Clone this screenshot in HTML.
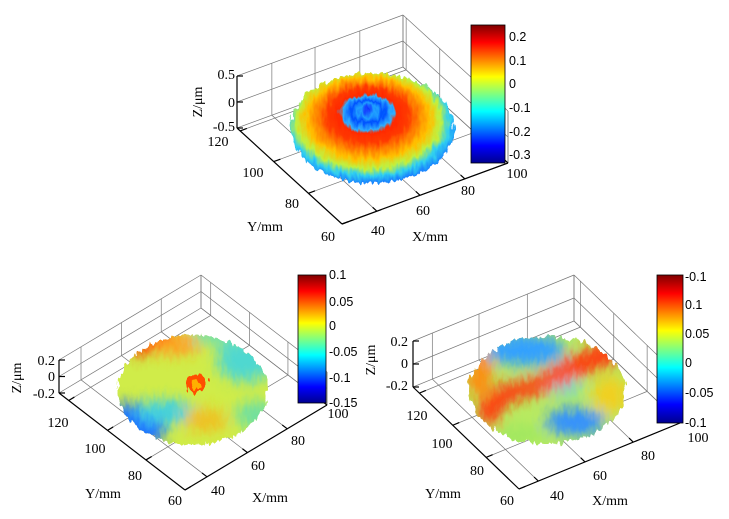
<!DOCTYPE html>
<html><head><meta charset="utf-8">
<style>
html,body{margin:0;padding:0;background:#fff;}
svg{display:block;}
.t{font-family:"Liberation Serif",serif;font-size:14px;fill:#000;}
.c{font-family:"Liberation Sans",sans-serif;font-size:12.5px;fill:#000;}
</style></head>
<body>
<svg id="s" width="729" height="519" viewBox="0 0 729 519" xmlns="http://www.w3.org/2000/svg">
<defs>
<linearGradient id="jet" x1="0" y1="1" x2="0" y2="0">
<stop offset="0" stop-color="#00008f"/><stop offset="0.125" stop-color="#0000ff"/>
<stop offset="0.375" stop-color="#00ffff"/><stop offset="0.625" stop-color="#ffff00"/>
<stop offset="0.875" stop-color="#ff0000"/><stop offset="1" stop-color="#800000"/>
</linearGradient>
<filter id="rough" x="-10%" y="-10%" width="120%" height="120%">
<feTurbulence type="fractalNoise" baseFrequency="0.25 0.09" numOctaves="2" seed="3" result="n"/>
<feDisplacementMap in="SourceGraphic" in2="n" scale="10" xChannelSelector="R" yChannelSelector="G"/>
</filter>
<filter id="blur6"><feGaussianBlur stdDeviation="7"/></filter>
<radialGradient id="g1" cx="0.48" cy="0.45" r="0.55" fx="0.47" fy="0.33">
<stop offset="0" stop-color="#1030ff"/><stop offset="0.1" stop-color="#20a0ff"/>
<stop offset="0.18" stop-color="#0050ff"/><stop offset="0.28" stop-color="#30b0ff"/>
<stop offset="0.33" stop-color="#ff2a00"/><stop offset="0.45" stop-color="#ff3a00"/>
<stop offset="0.55" stop-color="#ff7a00"/><stop offset="0.68" stop-color="#ffc000"/>
<stop offset="0.8" stop-color="#c0f040"/><stop offset="0.9" stop-color="#30d0f0"/>
<stop offset="1" stop-color="#1880ff"/>
</radialGradient>
</defs>
<g id="grid" stroke="#777" stroke-width="0.7" fill="none"></g>

<!-- top surface -->
<g filter="url(#rough)">
<ellipse cx="372" cy="128" rx="82" ry="55" fill="url(#g1)"/>
</g>
<!-- bottom-left surface -->
<g filter="url(#rough)">
<clipPath id="cl1"><ellipse cx="193" cy="390" rx="75" ry="55"/></clipPath>
<g clip-path="url(#cl1)">
<rect x="110" y="330" width="170" height="120" fill="#d0ec48"/>
<g filter="url(#blur6)">
<ellipse cx="140" cy="332" rx="32" ry="22" fill="#ff3000"/>
<ellipse cx="175" cy="345" rx="25" ry="10" fill="#ffa020"/>
<ellipse cx="130" cy="428" rx="35" ry="25" fill="#1a70ff"/>
<ellipse cx="165" cy="412" rx="30" ry="12" fill="#40d0e0"/>
<ellipse cx="245" cy="360" rx="28" ry="22" fill="#50d8d0"/>
<ellipse cx="225" cy="335" rx="35" ry="10" fill="#70e0b0"/>
<ellipse cx="205" cy="420" rx="22" ry="12" fill="#f0c020"/>
<ellipse cx="255" cy="415" rx="20" ry="14" fill="#70e0a0"/>
</g>
<ellipse cx="196" cy="383" rx="11" ry="9" fill="#ff5000"/>
<ellipse cx="196" cy="385" rx="5" ry="4" fill="#ffb000"/>
</g>
</g>
<!-- bottom-right surface -->
<g filter="url(#rough)">
<clipPath id="cl2"><ellipse cx="547" cy="390" rx="78" ry="54"/></clipPath>
<g clip-path="url(#cl2)">
<rect x="460" y="330" width="180" height="120" fill="#b8ea60"/>
<g filter="url(#blur6)">
<ellipse cx="525" cy="350" rx="40" ry="16" fill="#30a0ff"/>
<ellipse cx="575" cy="422" rx="30" ry="14" fill="#3090ff"/>
<ellipse cx="560" cy="385" rx="22" ry="10" fill="#60d8e0"/>
<path d="M475 410 L500 385 L535 378 L575 355 L610 340 L625 360 L590 372 L545 392 L510 402 L490 430 Z" fill="#ff3a10"/>
<ellipse cx="480" cy="375" rx="12" ry="25" fill="#ff8a10"/>
<ellipse cx="610" cy="395" rx="18" ry="20" fill="#f0d020"/>
<ellipse cx="520" cy="435" rx="25" ry="10" fill="#a0e860"/>
</g>
</g>
</g>

<g id="axes" stroke="#000" stroke-width="1.2" fill="none"></g>

<rect x="471" y="25" width="34" height="138" fill="url(#jet)" stroke="#000" stroke-width="0.8"/>
<rect x="298" y="275" width="28" height="128" fill="url(#jet)" stroke="#000" stroke-width="0.8"/>
<rect x="657" y="275" width="26" height="148" fill="url(#jet)" stroke="#000" stroke-width="0.8"/>
<g class="c">
<text x="509" y="41">0.2</text><text x="509" y="65">0.1</text><text x="509" y="88">0</text>
<text x="509" y="112">-0.1</text><text x="509" y="136">-0.2</text><text x="509" y="159">-0.3</text>
<text x="329" y="279">0.1</text><text x="329" y="306">0.05</text><text x="329" y="330">0</text>
<text x="329" y="356">-0.05</text><text x="329" y="382">-0.1</text><text x="329" y="407">-0.15</text>
<text x="685" y="281">-0.1</text><text x="685" y="309">0.1</text><text x="685" y="338">0.05</text>
<text x="685" y="367">0</text><text x="685" y="397">-0.05</text><text x="685" y="427">-0.1</text>
</g>

<g class="t">
<text x="235" y="79" text-anchor="end">0.5</text><text x="235" y="107" text-anchor="end">0</text><text x="235" y="131" text-anchor="end">-0.5</text>
<text x="218" y="146" text-anchor="middle">120</text><text x="253" y="177" text-anchor="middle">100</text>
<text x="292" y="208" text-anchor="middle">80</text><text x="328" y="241" text-anchor="middle">60</text>
<text x="378" y="235" text-anchor="middle">40</text><text x="423" y="215" text-anchor="middle">60</text>
<text x="468" y="195" text-anchor="middle">80</text><text x="517" y="178" text-anchor="middle">100</text>
<text x="265" y="231" text-anchor="middle">Y/mm</text><text x="430" y="241" text-anchor="middle">X/mm</text>
<text transform="translate(202,102) rotate(-90)" text-anchor="middle">Z/μm</text>
<text x="55" y="365" text-anchor="end">0.2</text><text x="55" y="381" text-anchor="end">0</text><text x="55" y="398" text-anchor="end">-0.2</text>
<text x="58" y="427" text-anchor="middle">120</text><text x="95" y="453" text-anchor="middle">100</text>
<text x="135" y="480" text-anchor="middle">80</text><text x="175" y="505" text-anchor="middle">60</text>
<text x="218" y="495" text-anchor="middle">40</text><text x="258" y="470" text-anchor="middle">60</text>
<text x="298" y="445" text-anchor="middle">80</text><text x="338" y="418" text-anchor="middle">100</text>
<text x="103" y="498" text-anchor="middle">Y/mm</text><text x="270" y="502" text-anchor="middle">X/mm</text>
<text transform="translate(21,378) rotate(-90)" text-anchor="middle">Z/μm</text>
<text x="408" y="346" text-anchor="end">0.2</text><text x="408" y="368" text-anchor="end">0</text><text x="408" y="390" text-anchor="end">-0.2</text>
<text x="417" y="420" text-anchor="middle">120</text><text x="442" y="448" text-anchor="middle">100</text>
<text x="477" y="475" text-anchor="middle">80</text><text x="507" y="505" text-anchor="middle">60</text>
<text x="557" y="500" text-anchor="middle">40</text><text x="600" y="480" text-anchor="middle">60</text>
<text x="648" y="460" text-anchor="middle">80</text><text x="698" y="442" text-anchor="middle">100</text>
<text x="443" y="498" text-anchor="middle">Y/mm</text><text x="610" y="505" text-anchor="middle">X/mm</text>
<text transform="translate(375,360) rotate(-90)" text-anchor="middle">Z/μm</text>
</g>
</svg>
<script>
(function(){
var NS="http://www.w3.org/2000/svg";
var grid=document.getElementById("grid"),axes=document.getElementById("axes");
function L(g,x1,y1,x2,y2){var l=document.createElementNS(NS,"line");l.setAttribute("x1",x1);l.setAttribute("y1",y1);l.setAttribute("x2",x2);l.setAttribute("y2",y2);g.appendChild(l);}
function box(A,B,C,h,xt,yt,zt){
  var D=[A[0]+C[0]-B[0],A[1]+C[1]-B[1]];
  var bc=[C[0]-B[0],C[1]-B[1]],ab=[B[0]-A[0],B[1]-A[1]],ba=[-ab[0],-ab[1]];
  xt.forEach(function(f){
    var P=[B[0]+f*bc[0],B[1]+f*bc[1]];L(grid,P[0],P[1],P[0]+ba[0],P[1]+ba[1]);
    var Q=[A[0]+f*bc[0],A[1]+f*bc[1]];L(grid,Q[0],Q[1],Q[0],Q[1]-h);
    L(axes,P[0],P[1],P[0]+ba[0]*0.04,P[1]+ba[1]*0.04);
  });
  yt.forEach(function(f){
    var P=[A[0]+f*ab[0],A[1]+f*ab[1]];L(grid,P[0],P[1],P[0]+bc[0],P[1]+bc[1]);
    var Q=[D[0]+f*ab[0],D[1]+f*ab[1]];L(grid,Q[0],Q[1],Q[0],Q[1]-h);
    L(axes,P[0],P[1],P[0]+bc[0]*0.04,P[1]+bc[1]*0.04);
  });
  zt.forEach(function(f){var y=f*h;L(grid,A[0],A[1]-y,D[0],D[1]-y);L(grid,D[0],D[1]-y,C[0],C[1]-y);
    L(axes,A[0],A[1]-y,A[0]+6,A[1]-y);});
  L(grid,D[0],D[1],D[0],D[1]-h);L(grid,C[0],C[1],C[0],C[1]-h);
  L(axes,A[0],A[1],A[0],A[1]-h);L(axes,A[0],A[1],B[0],B[1]);L(axes,B[0],B[1],C[0],C[1]);
}
box([237,128],[342,224],[508,163],52,[0.21,0.47,0.74,1],[0.03,0.35,0.68,1],[0,0.5,1]);
box([59,393],[185,490],[327,405],33,[0.155,0.44,0.72,1],[0.077,0.385,0.69,1],[0,0.5,1]);
box([413,387],[519,489],[680,423],46,[0.12,0.41,0.71,1],[0.06,0.375,0.69,1],[0,0.5,1]);
})();
</script>
</body></html>
